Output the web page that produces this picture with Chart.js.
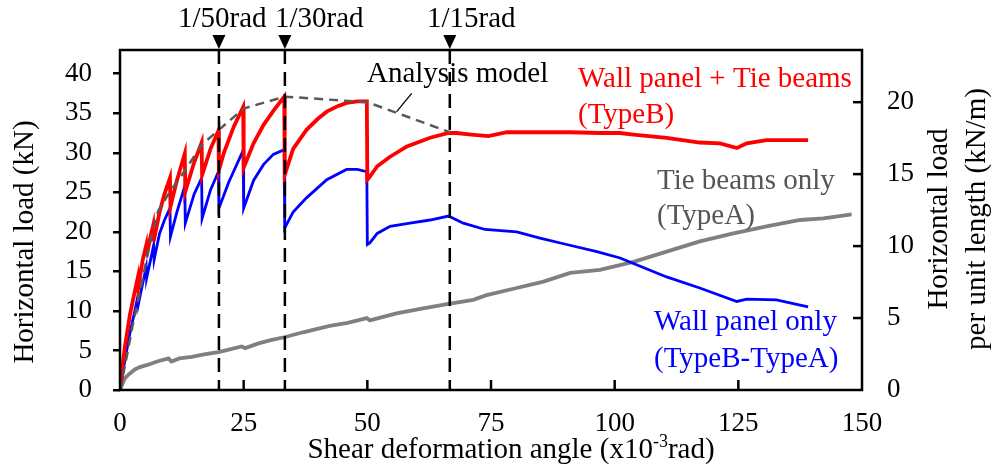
<!DOCTYPE html>
<html><head><meta charset="utf-8">
<script src="https://cdn.jsdelivr.net/npm/chart.js@4/dist/chart.umd.min.js"></script>
<style>html,body{margin:0;padding:0;background:#fff;overflow:hidden}</style>
</head><body>
<canvas id="c" width="992" height="473"></canvas>
<script>
// ---- data (x: shear deformation angle x10^-3 rad, y: horizontal load kN) ----
const typeB_x = [0,0.5,1,2,3,3.6,3.7,4.6,5.3,5.4,6.2,6.7,6.8,8,9,10.1,10.2,11.5,13.1,13.2,15,16.5,16.6,18.3,19.9,20,21,23,24.9,25,27,29,31,33.2,33.3,35,37.7,40,41.8,44,45.8,48,49.9,50,50.3,52,54.6,58,62.7,66.4,68,71,74.5,78.2,85,91,97,101,103.8,110.5,117.2,121.3,124.7,126.7,130.7,135,139.1];
const typeB_y = [0,3,5.5,9.5,12.5,14.2,13,16.5,18.3,17,19.5,20.8,18.8,22.5,24.8,26.8,23.2,26.5,29.9,25.1,28.8,31.3,27.2,30.5,32.8,27.8,30,33.3,35.8,28.1,31.2,33.5,35.3,37.1,27.2,30.5,32.9,34.3,35.2,35.9,36.3,36.5,36.5,26.6,26.8,28.3,29.5,30.8,31.9,32.5,32.5,32.3,32.1,32.6,32.6,32.6,32.5,32.5,32.3,31.9,31.3,31.2,30.6,31.2,31.6,31.6,31.6];

const wall_x = [0,1,2,3,3.6,3.7,4.6,5.3,5.4,6.2,6.8,6.9,8,9,10.1,10.2,11.5,13.1,13.2,15,16.5,16.6,18.3,19.9,20,22,24.9,25,27,29,31,33.2,33.3,35,37.7,41.8,45.8,48,49.9,50,50.5,52,54.6,58.6,62.7,66.4,69.4,73.8,80.2,84.9,90.3,96.4,101.1,103.8,110.5,117.2,124.7,126.7,132.7,139.1];
const wall_y = [0,3.8,7.2,10,11.8,10.8,13.5,15.5,14.2,16.5,18.3,16.5,19.8,21.5,23,19.4,22.5,25.8,21.1,24.8,26.8,21.7,25.3,27.6,23,26.3,30.3,23,26.5,28.5,29.8,30.4,20.5,22.5,24.3,26.6,27.9,27.9,27.6,18.4,18.6,19.8,20.7,21.1,21.5,22,21.1,20.3,20,19.2,18.4,17.5,16.7,16,14.3,12.9,11.2,11.5,11.4,10.5];

const typeA_x = [0,0.5,1,2,3,4,5.7,7.5,9.8,10.4,12,14.5,17,19.9,22,24.6,25.3,28,30.5,33.4,37,42.4,46,49.9,50.5,55.9,61,66.4,71.4,74.1,80.2,85.6,91,97,103.8,110.5,117.2,124,130.7,137.5,142.2,147.9];
const typeA_y = [0,0.8,1.5,2.1,2.6,2.9,3.2,3.6,4.0,3.6,4.0,4.2,4.5,4.8,5.1,5.5,5.3,5.9,6.3,6.7,7.3,8.1,8.5,9.1,8.8,9.7,10.3,10.9,11.4,12,12.9,13.7,14.8,15.2,16.2,17.5,18.8,19.8,20.7,21.5,21.7,22.2];

const model_x = [0,1.3,2.5,4.4,6,7.7,9.8,13.5,16.5,20,25,33.3,50,66.7];
const model_y = [0,4,8,13.5,18.5,22.6,24.8,28.1,31,32.9,35.6,37.1,36.4,32.6];

const markerX = [20, 33.33, 66.67];
const markerLabels = ['1/50rad', '1/30rad', '1/15rad'];
const leaderX = [58.97, 55.93];
const leaderY = [37.52, 35.2];

const xTicks = [0,25,50,75,100,125,150];
const yTicks = [0,5,10,15,20,25,30,35,40];
const y2Ticks = [0,5,10,15,20];
const yMax = 43;
const wallLength = 1.82; // m, load per unit length = load / length

// ---- build ----
const pts = (xs, ys) => xs.map((v, i) => ({x: v, y: ys[i]}));
const FONT = '"Liberation Serif","Times New Roman",serif';
const markerLabelLeft = [178, 275, 427];

const deco = {
  id: 'deco',
  afterDatasetsDraw(chart) {
    const {ctx, chartArea: a, scales: {x, y}} = chart;
    const y2 = chart.scales.y2;
    const line = (x1, y1, x2, y2_) => { ctx.beginPath(); ctx.moveTo(x1, y1); ctx.lineTo(x2, y2_); ctx.stroke(); };
    ctx.save();
    ctx.strokeStyle = '#000'; ctx.fillStyle = '#000'; ctx.lineWidth = 2.5;
    xTicks.forEach(v => { if (v > 0 && v < 150) { const px = x.getPixelForValue(v); line(px, a.bottom, px, a.bottom - 10); } });
    y2Ticks.forEach(v => { if (v > 0) { const py = y2.getPixelForValue(v); line(a.right, py, a.right - 9, py); } });
    ctx.setLineDash([14, 8]);
    markerX.forEach(v => { const px = x.getPixelForValue(v); line(px, a.top, px, a.bottom); });
    ctx.setLineDash([]);
    ctx.strokeRect(a.left, a.top, a.right - a.left, a.bottom - a.top);
    ctx.font = '29px ' + FONT; ctx.textAlign = 'left'; ctx.textBaseline = 'alphabetic';
    markerX.forEach((v, i) => {
      const px = x.getPixelForValue(v);
      ctx.beginPath(); ctx.moveTo(px - 6.5, a.top - 15); ctx.lineTo(px + 6.5, a.top - 15); ctx.lineTo(px, a.top - 1); ctx.closePath(); ctx.fill();
      ctx.fillText(markerLabels[i], markerLabelLeft[i], 27);
    });
    ctx.lineWidth = 1.3;
    line(x.getPixelForValue(leaderX[0]), y.getPixelForValue(leaderY[0]), x.getPixelForValue(leaderX[1]), y.getPixelForValue(leaderY[1]));
    ctx.textAlign = 'left';
    ctx.fillStyle = '#000'; ctx.fillText('Analysis model', 367, 82);
    ctx.fillStyle = '#ff0000'; ctx.fillText('Wall panel + Tie beams', 578, 87); ctx.fillText('(TypeB)', 578, 123);
    ctx.fillStyle = '#555555'; ctx.fillText('Tie beams only', 657, 189); ctx.fillText('(TypeA)', 657, 224);
    ctx.fillStyle = '#0000ff'; ctx.fillText('Wall panel only', 654, 330); ctx.fillText('(TypeB-TypeA)', 654, 366.5);
    ctx.fillStyle = '#000';
    ctx.save(); ctx.translate(33, 242); ctx.rotate(-Math.PI / 2); ctx.textAlign = 'center';
    ctx.fillText('Horizontal load (kN)', 0, 0); ctx.restore();
    ctx.save(); ctx.translate(947, 219); ctx.rotate(-Math.PI / 2); ctx.textAlign = 'center';
    ctx.fillText('Horizontal load', 0, 0); ctx.fillText('per unit length (kN/m)', 0, 38); ctx.restore();
    const p1 = 'Shear deformation angle (x10', sup = '-3', p2 = 'rad)';
    ctx.font = '29px ' + FONT; const w1 = ctx.measureText(p1).width, w3 = ctx.measureText(p2).width;
    ctx.font = '18px ' + FONT; const w2 = ctx.measureText(sup).width;
    let sx = 511 - (w1 + w2 + w3) / 2;
    ctx.font = '29px ' + FONT; ctx.fillText(p1, sx, 458); sx += w1;
    ctx.font = '18px ' + FONT; ctx.fillText(sup, sx, 447); sx += w2;
    ctx.font = '29px ' + FONT; ctx.fillText(p2, sx, 458);
    ctx.restore();
  }
};

new Chart(document.getElementById('c'), {
  type: 'line',
  data: {
    datasets: [
      {label: 'Analysis model', data: pts(model_x, model_y), borderColor: '#595959', borderWidth: 2.5, borderDash: [9, 6], order: 0},
      {label: 'Wall panel + Tie beams (TypeB)', data: pts(typeB_x, typeB_y), borderColor: '#ff0000', borderWidth: 3.8, order: 1},
      {label: 'Wall panel only (TypeB-TypeA)', data: pts(wall_x, wall_y), borderColor: '#0000ff', borderWidth: 2.8, order: 2},
      {label: 'Tie beams only (TypeA)', data: pts(typeA_x, typeA_y), borderColor: '#808080', borderWidth: 3.8, order: 3}
    ]
  },
  options: {
    responsive: false, animation: false, devicePixelRatio: 1,
    elements: {point: {radius: 0}, line: {tension: 0, fill: false}},
    layout: {padding: {top: 50, left: 0, right: 0, bottom: 0}},
    plugins: {legend: {display: false}, tooltip: {enabled: false}},
    scales: {
      x: {type: 'linear', min: 0, max: 150,
          afterFit(s) { s.height = 83; },
          afterBuildTicks(s) { s.ticks = xTicks.map(v => ({value: v})); },
          grid: {display: false, drawTicks: false}, border: {display: false},
          ticks: {color: '#000', font: {family: FONT, size: 27}, padding: 18, maxRotation: 0}},
      y: {type: 'linear', position: 'left', min: 0, max: yMax,
          afterFit(s) { s.width = 120; },
          afterBuildTicks(s) { s.ticks = yTicks.map(v => ({value: v})); },
          grid: {display: true, drawOnChartArea: false, drawTicks: true, tickLength: 7, color: '#000', lineWidth: 2.5}, border: {display: false},
          ticks: {color: '#000', font: {family: FONT, size: 27}, padding: 21}},
      y2: {type: 'linear', position: 'right', min: 0, max: yMax / wallLength,
          afterFit(s) { s.width = 130; },
          afterBuildTicks(s) { s.ticks = y2Ticks.map(v => ({value: v})); },
          grid: {display: false, drawTicks: false}, border: {display: false},
          ticks: {color: '#000', font: {family: FONT, size: 27}, padding: 25}}
    }
  },
  plugins: [deco]
});
</script>
</body></html>
